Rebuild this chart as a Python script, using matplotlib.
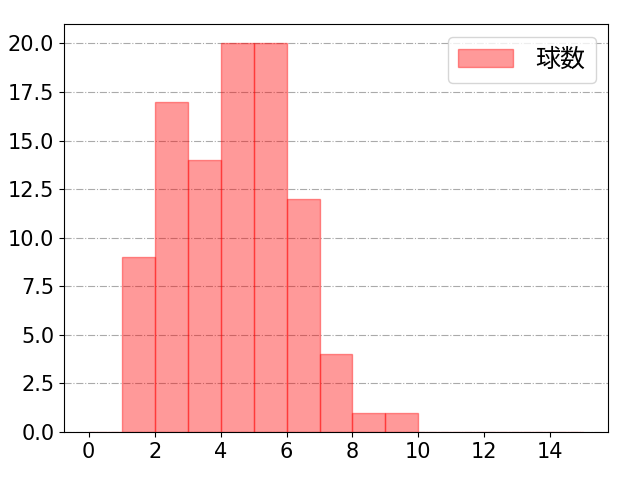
import numpy as np
import matplotlib.pyplot as plt

plt.rcParams['font.family'] = ['DejaVu Sans', 'Noto Sans CJK JP']
plt.rcParams['font.size'] = 15

# pitch count per bin (bins of width 1 from 0 to 15)
bin_edges = list(range(0, 16))
counts = [0, 9, 17, 14, 20, 20, 12, 4, 1, 1, 0, 0, 0, 0, 0]

fig = plt.figure(figsize=(6.4, 4.8), dpi=100)
ax = fig.add_axes([0.1, 0.1, 0.85, 0.85])
ax.hist(bin_edges[:-1], bins=bin_edges, weights=counts,
        color='red', alpha=0.4, edgecolor='red', label='球数')
ax.grid(axis='y', linestyle='-.', color='#aaaaaa')
ax.set_axisbelow(True)
ax.set_xticks(range(0, 16, 2))
ax.legend(loc='upper right', handlelength=2.2, handletextpad=0.9,
          prop={'family': ['Noto Sans CJK JP'], 'size': 18})
fig.savefig('out.png')
